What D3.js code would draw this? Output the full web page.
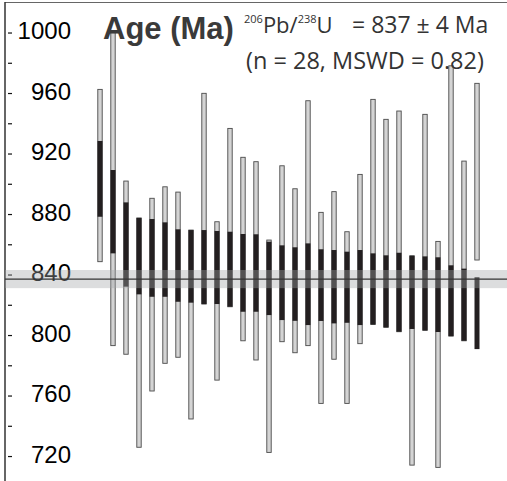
<!DOCTYPE html>
<html><head><meta charset="utf-8">
<script src="https://cdn.jsdelivr.net/npm/d3@7/dist/d3.min.js"></script>
<style>html,body{margin:0;padding:0;background:#fff;overflow:hidden}</style>
</head><body><svg id="c" width="507" height="481"></svg>
<script>
// ---- data (Ma) ----
const grains = d3.range(1, 31);
const hi2 = [962.4,1000,901.8,877.4,890.4,898,894.5,869.4,959.8,874.9,936.6,917.5,914.6,862.8,911.9,896.7,954.9,881.1,894.8,868.3,906.2,955.8,942.6,948.1,852.4,945.9,861.9,978,915,966.4];
const hi1 = [928.3,909.1,887.7,877.4,876.7,874.5,869.9,869.4,869.4,868.8,868.3,866.8,866.6,861.7,859.3,858,860.6,856.7,856.2,855.1,856.2,854,852.7,854.4,852.4,852,851.4,846.1,843.9,838.2];
const lo1 = [878.2,854,832,826.9,825.3,825.3,822,821.4,820.5,820.5,818.7,815.4,815.4,813.2,809.9,809.4,806.6,809.3,807.7,808.1,806.6,807,805.1,802.2,804,803.1,802,799.3,796.2,790.7];
const lo2 = [848.5,793,787.3,725.8,763,781.3,785.3,744.5,820.5,770.2,818.7,796.2,783.5,722.4,795.6,788.3,793,754.8,784,754.8,794.3,807,805.1,802.2,714,803.1,712.5,799.3,796.2,849.6];
const meanAge = 837;
const bandLo = 831, bandHi = 843;
const majorTicks = [720,760,800,840,880,920,960,1000];
const minorTicks = [740,780,820,860,900,940,980];

const svg = d3.select("#c");
const W = 507, H = 481;
const y = d3.scaleLinear().domain([1021.5, 703.5]).range([0, H]);
const x = d3.scalePoint().domain(grains).range([100, 477]);
const bw = 4.4;

// frame
svg.append("line").attr("x1",5).attr("x2",W).attr("y1",2.5).attr("y2",2.5).attr("stroke","#666").attr("stroke-width",1.2);
svg.append("line").attr("x1",5).attr("x2",5).attr("y1",2).attr("y2",H).attr("stroke","#333").attr("stroke-width",1.5);

// axis ticks & labels
const yAxis = d3.axisRight(y).tickValues(majorTicks).tickSize(4).tickPadding(0).tickFormat(d3.format("d"));
const ag = svg.append("g").attr("transform","translate(8,0)").call(yAxis);
ag.select(".domain").remove();
ag.selectAll(".tick line").attr("stroke","#111").attr("stroke-width",1.2);
ag.selectAll(".tick text").attr("x",63).attr("dy","6px").attr("text-anchor","end")
  .attr("font-family","'Liberation Sans', Arial, sans-serif").attr("font-size","24px").attr("fill","#000");
const mg = svg.append("g").attr("transform","translate(8,0)").call(d3.axisRight(y).tickValues(minorTicks).tickSize(4).tickFormat(""));
mg.select(".domain").remove();
mg.selectAll(".tick line").attr("stroke","#111").attr("stroke-width",1.2);

// 2-sigma boxes
const idx = d3.range(grains.length);
svg.append("g").selectAll("rect").data(idx).join("rect")
  .attr("x", i => x(grains[i]) - bw/2).attr("width", bw)
  .attr("y", i => y(hi2[i])).attr("height", i => y(lo2[i]) - y(hi2[i]))
  .attr("fill","#d4d4d4").attr("stroke","#4a4a4a").attr("stroke-width",0.9);
// 1-sigma boxes
svg.append("g").selectAll("rect").data(idx).join("rect")
  .attr("x", i => x(grains[i]) - bw/2 - 0.3).attr("width", bw + 0.6)
  .attr("y", i => y(hi1[i])).attr("height", i => y(lo1[i]) - y(hi1[i]))
  .attr("fill","#231f20");

// mean band
svg.append("rect").attr("x",5).attr("width",W-5).attr("y",y(bandHi)).attr("height",y(bandLo)-y(bandHi))
  .attr("fill","#a3a5a8").attr("fill-opacity",0.38);
svg.append("line").attr("x1",5).attr("x2",W).attr("y1",y(meanAge)).attr("y2",y(meanAge))
  .attr("stroke","#333").attr("stroke-width",1.2);

// titles
svg.append("text").attr("x",103).attr("y",39).attr("font-family","'Liberation Sans', Arial, sans-serif")
  .attr("font-weight","bold").attr("font-size","31px").attr("fill","#3a3a3a").text("Age (Ma)");
const t1 = svg.append("text").attr("y",33).attr("font-family","'Open Sans', sans-serif").attr("font-size","22px").attr("fill","#333");
t1.append("tspan").attr("x",244).attr("dy",-10).attr("font-size","11px").text("206");
t1.append("tspan").attr("dy",10).text("Pb/");
t1.append("tspan").attr("dy",-10).attr("font-size","11px").text("238");
t1.append("tspan").attr("dy",10).text("U");
t1.append("tspan").attr("x",352).attr("font-size","23px").text("= 837 ± 4 Ma");
svg.append("text").attr("x",246).attr("y",69).attr("font-family","'Open Sans', sans-serif").attr("font-size","23.5px").attr("fill","#333")
  .text("(n = 28, MSWD = 0.82)");
</script></body></html>
